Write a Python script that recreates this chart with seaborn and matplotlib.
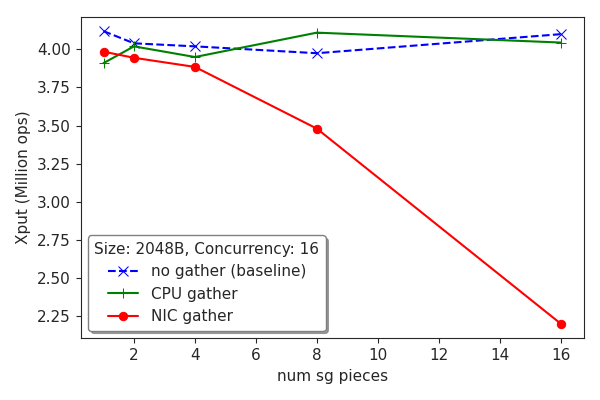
import matplotlib
matplotlib.use("Agg")
import matplotlib.pyplot as plt
import seaborn as sns
import pandas as pd

sns.set_style("ticks")
plt.rcParams['font.family'] = ['DejaVu Sans']
plt.rcParams['font.size'] = 11

sg_pieces = [1, 2, 4, 8, 16]
no_gather = [4.12, 4.04, 4.02, 3.975, 4.10]
cpu_gather = [3.91, 4.02, 3.95, 4.11, 4.045]
nic_gather = [3.985, 3.945, 3.885, 3.48, 2.20]

fig, ax = plt.subplots(figsize=(6, 4), dpi=100)
sns.lineplot(x=sg_pieces, y=no_gather, ax=ax, color='blue', linestyle='--',
             marker='x', markersize=7, markeredgecolor='blue', label='no gather (baseline)')
sns.lineplot(x=sg_pieces, y=cpu_gather, ax=ax, color='green', marker='+',
             markersize=7, markeredgecolor='green', label='CPU gather')
sns.lineplot(x=sg_pieces, y=nic_gather, ax=ax, color='red', marker='o',
             markersize=6, markeredgecolor='red', label='NIC gather')

ax.set_xlabel("num sg pieces")
ax.set_ylabel("Xput (Million ops)")
ax.set_xticks([2, 4, 6, 8, 10, 12, 14, 16])
ax.set_yticks([2.25, 2.5, 2.75, 3.0, 3.25, 3.5, 3.75, 4.0])
ax.yaxis.set_major_formatter(matplotlib.ticker.FormatStrFormatter('%.2f'))
ax.legend(title="Size: 2048B, Concurrency: 16", loc='lower left', shadow=True,
          fancybox=True, framealpha=1, edgecolor='gray')
fig.tight_layout()
fig.savefig("out.png")
